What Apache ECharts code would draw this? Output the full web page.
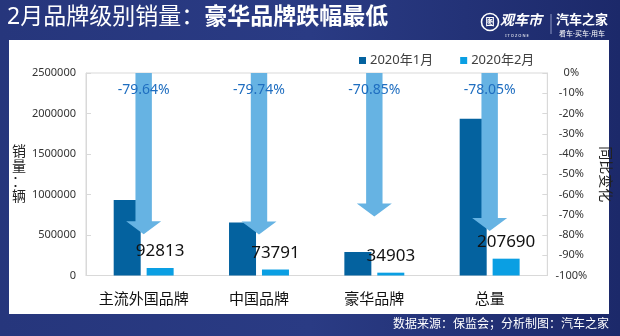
<!DOCTYPE html>
<html><head><meta charset="utf-8">
<script src="https://cdn.jsdelivr.net/npm/echarts@6/dist/echarts.min.js"></script>
<style>html,body{margin:0;padding:0;background:#1f2c6d}#c{width:620px;height:336px}</style>
</head><body><div id="c"></div>
<script>
var categories = ['主流外国品牌', '中国品牌', '豪华品牌', '总量'];
var jan2020 = [933000, 653000, 290000, 1934000];
var feb2020 = [92813, 73791, 34903, 207690];
var yoyChange = [-79.64, -79.74, -70.85, -78.05];
var seriesNames = ['2020年1月', '2020年2月'];
var leftTicks = [0, 2500000, 500000];
var rightTicks = [-100, 0, 10];

var FONT = "'Noto Sans', 'Noto Sans CJK SC', sans-serif";
var chart = echarts.init(document.getElementById('c'), null, {renderer: 'canvas'});

function renderArrow(params, api) {
  var idx = api.value(0);
  var v = api.value(1);
  var top = api.coord([idx, 0]);
  var tip = api.coord([idx, v]);
  var cx = top[0];
  var sw = 8.2, hw = 17.5, hh = 13;
  var pts = [
    [cx - sw, top[1]], [cx + sw, top[1]], [cx + sw, tip[1] - hh], [cx + hw, tip[1] - hh],
    [cx, tip[1]], [cx - hw, tip[1] - hh], [cx - sw, tip[1] - hh]
  ];
  return {
    type: 'group',
    children: [
      {type: 'polygon', shape: {points: pts}, style: {fill: '#66b3e3'}},
      {type: 'text', style: {text: v.toFixed(2) + '%', x: cx, y: top[1] + 17, align: 'center', verticalAlign: 'middle',
        fill: '#1f6ec0', font: '14px ' + FONT}}
    ]
  };
}

chart.setOption({
  animation: false,
  backgroundColor: 'transparent',
  graphic: [
    {type: 'rect', z: -10, shape: {x: 0, y: 0, width: 620, height: 336},
     style: {fill: new echarts.graphic.LinearGradient(0, 0, 1, 0, [{offset: 0, color: '#26367c'}, {offset: 0.5, color: '#2a3b84'}, {offset: 1, color: '#1c296a'}])}},
    {type: 'rect', z: -9, shape: {x: 9, y: 40, width: 600, height: 274}, style: {fill: '#ffffff'}},
    {type: 'text', left: 7, top: 6, style: {
      text: '{a|2月品牌级别销量：}{b|豪华品牌跌幅最低}',
      rich: {
        a: {fontSize: 23, fill: '#ffffff', fontFamily: FONT},
        b: {fontSize: 23, fontWeight: 'bold', fill: '#ffffff', fontFamily: FONT}
      }}},
    {type: 'circle', shape: {cx: 490, cy: 22, r: 8.5}, style: {fill: 'none', stroke: '#ffffff', lineWidth: 1.6}},
    {type: 'text', style: {text: '图', x: 490, y: 22, align: 'center', verticalAlign: 'middle', fill: '#ffffff', font: 'bold 9px ' + FONT}},
    {type: 'text', style: {text: '观车市', x: 500, y: 21, verticalAlign: 'middle', fill: '#ffffff', font: 'italic bold 14px ' + FONT}},
    {type: 'text', style: {text: 'I T O Z O N E', x: 517, y: 36, align: 'center', verticalAlign: 'middle', fill: '#ffffff', font: '4px ' + FONT}},
    {type: 'line', shape: {x1: 551, y1: 14, x2: 551, y2: 34}, style: {stroke: '#8d97c2', lineWidth: 1}},
    {type: 'text', style: {text: '汽车之家', x: 582, y: 20, align: 'center', verticalAlign: 'middle', fill: '#ffffff', font: 'bold 13px ' + FONT}},
    {type: 'text', style: {text: '看车·买车·用车', x: 582, y: 34, align: 'center', verticalAlign: 'middle', fill: '#ffffff', font: '7px ' + FONT}},
    {type: 'text', style: {text: '数据来源：保监会；分析制图：汽车之家', x: 609, y: 325, align: 'right', verticalAlign: 'middle', fill: '#ffffff', font: '12px ' + FONT}}
  ],
  legend: {
    data: seriesNames,
    left: 354, top: 49,
    icon: 'rect', itemWidth: 7, itemHeight: 7, itemGap: 27,
    textStyle: {fontSize: 13, color: '#404040', fontFamily: FONT, padding: [0, 0, 0, -1]}
  },
  grid: {left: 86, right: 71, top: 73, bottom: 60.5, show: true, borderColor: '#d9d9d9', borderWidth: 1},
  xAxis: {
    type: 'category', data: categories,
    axisLine: {lineStyle: {color: '#d9d9d9'}}, axisTick: {show: false},
    axisLabel: {interval: 0, fontSize: 15, color: '#111111', margin: 17, fontFamily: FONT}
  },
  yAxis: [
    {type: 'value', min: leftTicks[0], max: leftTicks[1], interval: leftTicks[2],
     name: '销\n量\n：\n辆', nameLocation: 'middle', nameRotate: 0, nameGap: 63,
     nameTextStyle: {fontSize: 14, color: '#222222', fontFamily: FONT, lineHeight: 15, align: 'center', verticalAlign: 'middle'},
     axisLine: {show: true, lineStyle: {color: '#d9d9d9'}},
     axisTick: {show: true, inside: true, length: 5, lineStyle: {color: '#d9d9d9'}},
     splitLine: {show: false},
     axisLabel: {fontSize: 11, color: '#333333', margin: 10, fontFamily: FONT,
       formatter: function (v) { return String(v); }}},
    {type: 'value', min: rightTicks[0], max: rightTicks[1], interval: rightTicks[2], position: 'right',
     name: '同比变化', nameLocation: 'middle', nameRotate: -90, nameGap: 47,
     nameTextStyle: {fontSize: 14, color: '#222222', fontFamily: FONT},
     axisLine: {show: true, lineStyle: {color: '#d9d9d9'}},
     axisTick: {show: true, inside: true, length: 5, lineStyle: {color: '#d9d9d9'}},
     splitLine: {show: false},
     axisLabel: {fontSize: 11, color: '#333333', margin: 24, align: 'center', formatter: '{value}%', fontFamily: FONT}}
  ],
  series: [
    {name: seriesNames[0], type: 'bar', data: jan2020, barWidth: 27, barGap: '22%', z: 1,
     itemStyle: {color: '#04629f'}},
    {name: seriesNames[1], type: 'bar', data: feb2020, barWidth: 27, barGap: '22%', z: 5,
     itemStyle: {color: '#0a9fe3'},
     label: {show: true, position: 'top', distance: 8, fontSize: 17, color: '#111111', fontFamily: FONT}},
    {type: 'custom', yAxisIndex: 1, z: 3, renderItem: renderArrow,
     data: yoyChange.map(function (v, i) { return [i, v]; })}
  ]
});
</script>
</body></html>
